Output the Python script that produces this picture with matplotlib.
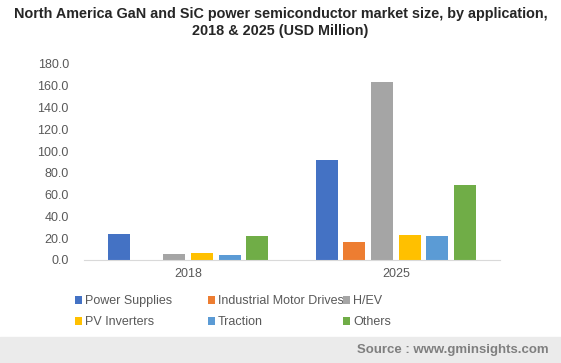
import numpy as np
import matplotlib.pyplot as plt
from matplotlib.patches import Rectangle

plt.rcParams['font.family'] = ['Liberation Sans', 'DejaVu Sans']

years = ['2018', '2025']
series = ['Power Supplies', 'Industrial Motor Drives', 'H/EV',
          'PV Inverters', 'Traction', 'Others']
power_supplies = [24.0, 91.7]
motor_drives = [0.0, 16.6]
hev = [5.8, 163.7]
pv_inverters = [6.7, 22.5]
traction = [4.9, 21.5]
others = [21.5, 69.2]
colors = ['#4472C4', '#ED7D31', '#A5A5A5', '#FFC000', '#5B9BD5', '#70AD47']

values = [power_supplies, motor_drives, hev, pv_inverters, traction, others]

fig = plt.figure(figsize=(5.61, 3.63), dpi=100)
ax = fig.add_axes([0.150, 0.284, 0.741, 0.540])

x = np.arange(len(years))
pitch = 0.133
width = 0.106
bars = []
for i, (name, vals) in enumerate(zip(series, values)):
    b = ax.bar(x + (i - 2.5) * pitch, vals, width, color=colors[i], label=name)
    bars.append(b)

ax.set_xlim(-0.5, 1.5)
ax.set_ylim(0, 180)
ax.set_yticks(np.arange(0, 181, 20))
ax.set_yticklabels([f'{v:.1f}' for v in np.arange(0, 181, 20)])
ax.set_xticks(x)
ax.set_xticklabels(years)
ax.tick_params(axis='both', length=0, labelsize=9, colors='#595959')
ax.tick_params(axis='y', pad=11)
ax.tick_params(axis='x', pad=6)
for s in ['top', 'right', 'left']:
    ax.spines[s].set_visible(False)
ax.spines['bottom'].set_color('#D9D9D9')

fig.suptitle('North America GaN and SiC power semiconductor market size, by application,\n'
             '2018 & 2025 (USD Million)', fontsize=10.4, fontweight='bold',
             color='#262626', y=0.982, linespacing=1.3)

# legend: three columns placed by hand
col_x = [0.133, 0.370, 0.611]
for c in range(3):
    h = [bars[c], bars[c + 3]]
    lab = [series[c], series[c + 3]]
    leg = fig.legend(h, lab, loc='upper left', bbox_to_anchor=(col_x[c], 0.186),
                     frameon=False, fontsize=9, handlelength=0.6, handleheight=0.6,
                     handletextpad=0.25, labelspacing=0.7, borderpad=0, borderaxespad=0)
    for t in leg.get_texts():
        t.set_color('#595959')

# source footer band
fig.patches.append(Rectangle((0, 0), 1, 0.072, transform=fig.transFigure,
                             color='#EBEBEB', zorder=0))
fig.text(0.978, 0.036, 'Source : www.gminsights.com', ha='right', va='center',
         fontsize=9.5, fontweight='bold', color='#7F7F7F')

fig.savefig('out.png', dpi=100)
